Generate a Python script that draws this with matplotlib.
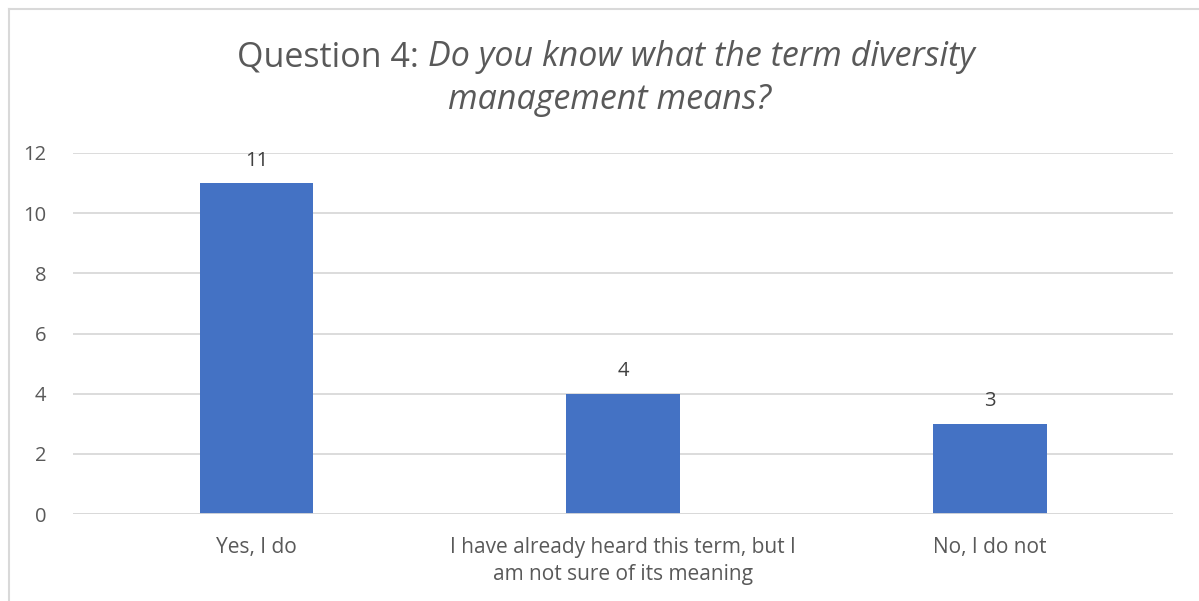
import matplotlib
matplotlib.use("Agg")
import matplotlib.pyplot as plt
from matplotlib.lines import Line2D

categories = ["Yes, I do", "I have already heard this term, but I\nam not sure of its meaning", "No, I do not"]
values = [11, 4, 3]
yticks = [0, 2, 4, 6, 8, 10, 12]
title_plain = "Question 4: "
title_italic_1 = "Do you know what the term diversity"
title_italic_2 = "management means?"

FONT = "Open Sans"
W, H = 1199, 601
fig = plt.figure(figsize=(W / 100, H / 100), dpi=100)
fig.patch.set_facecolor("white")

ax = fig.add_axes([73 / W, 1 - 514 / H, 1100 / W, 361 / H])
x = list(range(len(categories)))
ax.bar(x, values, width=0.31, color="#4472C4", zorder=3)
ax.set_xlim(-0.5, len(categories) - 0.5)
ax.set_ylim(0, 12)
ax.set_yticks(yticks)
ax.set_yticklabels([str(t) for t in yticks], fontfamily=FONT, fontsize=14.5, color="#595959")
ax.set_xticks(x)
ax.set_xticklabels(categories, fontfamily=FONT, fontsize=15, color="#595959", linespacing=1.4)
ax.tick_params(axis="both", length=0)
ax.tick_params(axis="y", pad=19)
ax.tick_params(axis="x", pad=16.5)
ax.grid(axis="y", color="#D9D9D9", linewidth=1.3, zorder=0)
for s in ax.spines.values():
    s.set_visible(False)
ax.axhline(0, color="#D9D9D9", linewidth=1.3, zorder=4)

for xi, v in zip(x, values):
    ax.annotate(str(v), (xi, v), xytext=(0, 9), textcoords="offset points",
                ha="center", va="bottom", fontfamily=FONT, fontsize=14.5, color="#404040")

# figure border (top and left visible)
fig.add_artist(Line2D([8.5 / W, 1], [1 - 8.5 / H, 1 - 8.5 / H], transform=fig.transFigure, color="#D9D9D9", lw=1.5))
fig.add_artist(Line2D([8.5 / W, 8.5 / W], [0, 1 - 8.5 / H], transform=fig.transFigure, color="#D9D9D9", lw=1.5))

# title
tsize = 24.5
cx = 606 / W
fig.canvas.draw()
r = fig.canvas.get_renderer()
t1 = fig.text(0, 1 - 66 / H, title_plain, fontfamily=FONT, fontsize=tsize, color="#595959", va="baseline", ha="left")
t2 = fig.text(0, 1 - 66 / H, title_italic_1, fontfamily=FONT, fontsize=tsize, style="italic", color="#595959", va="baseline", ha="left")
w1 = t1.get_window_extent(r).width
w2 = t2.get_window_extent(r).width
left = cx * W - (w1 + w2) / 2
t1.set_x(left / W)
t2.set_x((left + w1) / W)
fig.text(610 / W, 1 - 109 / H, title_italic_2, fontfamily=FONT, fontsize=tsize, style="italic", color="#595959", va="baseline", ha="center")

fig.savefig("out.png", dpi=100, facecolor="white")
